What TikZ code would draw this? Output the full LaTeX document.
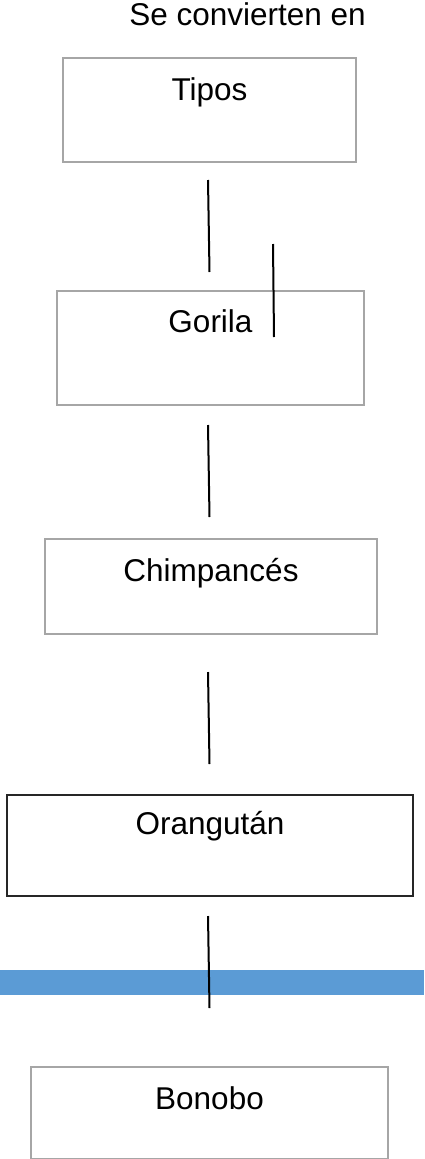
\documentclass[tikz,border=0pt]{standalone}
\usepackage{fontspec}
\setmainfont{Liberation Sans}
\usepackage{tikz}
\usetikzlibrary{arrows.meta, calc}
\definecolor{barblue}{HTML}{5B9BD5}
\definecolor{boxgray}{HTML}{A6A6A6}

\begin{document}
\begin{tikzpicture} [x=1pt, y=-1pt,
    font=\fontsize{31.5}{38}\selectfont,
    ]
        \tikzset{BoxStyle/.style = {shape = rectangle, draw = boxgray, line width = 2pt, inner xsep = 0, inner ysep = 0, anchor = north}}
        \tikzset{edge/.style = {line width = 2pt, black}}
    \useasboundingbox (0,0) rectangle (424,1159);
    \node[anchor=base] at (247.5,25) (titulo) {Se convierten en};
    \node[BoxStyle, minimum width=293, text height=42, text depth=62] at (209.5,57) (tipos) {Tipos};
    \node[BoxStyle, minimum width=307, text height=41, text depth=73] at (210.5,290) (gorila) {Gorila};
    \node[BoxStyle, minimum width=332, text height=42, text depth=53] at (211,538) (chimp) {Chimpancés};
    \node[BoxStyle, draw=black!85, line width=1.5pt, minimum width=406, text height=40, text depth=61] at (210,794) (orangutan) {Orangután};
    \node[BoxStyle, minimum width=357, text height=42, text depth=50] at (209.5,1066) (bonobo) {Bonobo};

    % short lines between the boxes
    \coordinate (a1) at (208,180);   \coordinate (a2) at (209.5,272);
    \coordinate (b1) at (273,244);   \coordinate (b2) at (274,337);
    \coordinate (c1) at (208,425);   \coordinate (c2) at (209.5,517);
    \coordinate (d1) at (208,672);   \coordinate (d2) at (209.5,764);
    \coordinate (e1) at (208,916);   \coordinate (e2) at (209.5,1008);

    \fill[barblue] (0,970) rectangle (424,995);

\path[edge]
    (a1) edge (a2)
    (b1) edge (b2)
    (c1) edge (c2)
    (d1) edge (d2)
    (e1) edge (e2);

\end{tikzpicture}
\end{document}
